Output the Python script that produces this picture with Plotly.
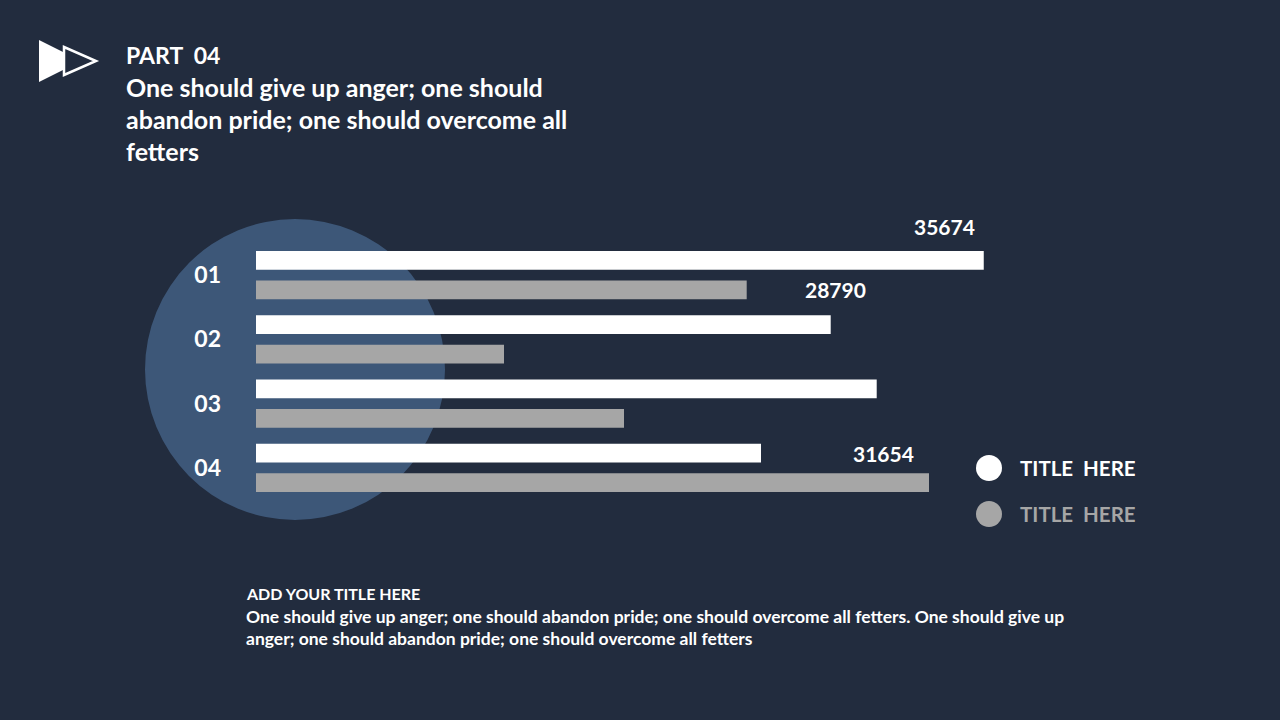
import plotly.graph_objects as go

# ---- data ----
categories = ["01", "02", "03", "04"]
series_names = ["TITLE  HERE", "TITLE  HERE"]
series_a = [35674, 28172, 30427, 24755]   # white bars
series_b = [24054, 12157, 18039, 32990]   # gray bars
value_labels = ["35674", "28790", "31654"]

# ---- style ----
BG = "#222c3e"
CIRCLE = "#3d5778"
WHITE = "#ffffff"
GRAY = "#a6a6a6"
FONT = "Lato"

W, H = 1280, 720
L, R, T, B = 256, 1072, 243, 500
PW, PH = R - L, B - T


def px(x):
    return (x - L) / PW


def py(y):
    return (B - y) / PH


fig = go.Figure()
fig.add_trace(go.Bar(y=categories, x=series_a, orientation="h", name=series_names[0],
                     marker=dict(color=WHITE, line=dict(width=0)), showlegend=False,
                     hoverinfo="x"))
fig.add_trace(go.Bar(y=categories, x=series_b, orientation="h", name=series_names[1],
                     marker=dict(color=GRAY, line=dict(width=0)), showlegend=False,
                     hoverinfo="x"))

shapes = []
# background circle
shapes.append(dict(type="circle", xref="paper", yref="paper", layer="below",
                   x0=px(145), x1=px(445), y0=py(520), y1=py(219),
                   fillcolor=CIRCLE, line=dict(width=0)))


def path(pts):
    return "M " + " L ".join(f"{px(x):.5f},{py(y):.5f}" for x, y in pts) + " Z"


# icon: filled triangle + outlined triangle
shapes.append(dict(type="path", xref="paper", yref="paper",
                   path=path([(39, 40), (39, 82), (81, 61)]),
                   fillcolor=WHITE, line=dict(width=0)))
shapes.append(dict(type="path", xref="paper", yref="paper",
                   path=path([(64, 47), (64, 75), (96, 61)]),
                   fillcolor=BG, line=dict(color=WHITE, width=2.5)))
# legend circles
for cy, col in [(468, WHITE), (514, GRAY)]:
    shapes.append(dict(type="circle", xref="paper", yref="paper",
                       x0=px(976), x1=px(1002), y0=py(cy + 13), y1=py(cy - 13),
                       fillcolor=col, line=dict(width=0)))

annotations = []


def txt(x, y, text, size, color=WHITE, xanchor="left"):
    annotations.append(dict(xref="paper", yref="paper", x=px(x), y=py(y), text=text,
                            showarrow=False, xanchor=xanchor, yanchor="middle",
                            align="left", font=dict(family=FONT, size=size, color=color)))


# header
txt(124, 55, "<b>PART  04</b>", 23)
header_lines = ["One should give up anger; one should",
                "abandon pride; one should overcome all",
                "fetters"]
for i, line in enumerate(header_lines):
    txt(124, 87 + 32 * i, f"<b>{line}</b>", 25)
# value labels
txt(944, 226, f"<b>{value_labels[0]}</b>", 21, xanchor="center")
txt(835, 289, f"<b>{value_labels[1]}</b>", 21, xanchor="center")
txt(883, 453, f"<b>{value_labels[2]}</b>", 21, xanchor="center")
# legend labels
txt(1018, 468, f"<b>{series_names[0]}</b>", 20.5, WHITE)
txt(1018, 514, f"<b>{series_names[1]}</b>", 20.5, GRAY)
# footer
txt(244, 593, "<b>ADD YOUR TITLE HERE</b>", 16)
txt(244, 616, "<b>One should give up anger; one should abandon pride; one should overcome all fetters. One should give up</b>", 17.5)
txt(244, 638, "<b>anger; one should abandon pride; one should overcome all fetters</b>", 17.5)

fig.update_layout(
    width=W, height=H,
    margin=dict(l=L, r=W - R, t=T, b=H - B, pad=0),
    paper_bgcolor=BG, plot_bgcolor="rgba(0,0,0,0)",
    barmode="group", bargap=0.076, bargroupgap=0.37,
    xaxis=dict(range=[0, 40000], visible=False, showgrid=False, zeroline=False, fixedrange=True),
    yaxis=dict(autorange="reversed", showgrid=False, zeroline=False, showline=False,
               ticks="", ticklabelstandoff=34,
               tickfont=dict(family=FONT, size=23, color=WHITE), fixedrange=True),
    shapes=shapes, annotations=annotations, showlegend=False,
)
fig.update_yaxes(tickprefix="<b>", ticksuffix="</b>")

fig.write_html("out.html", config={"displayModeBar": False},
               post_script="document.body.style.margin='0';document.body.style.background='" + BG + "';")
